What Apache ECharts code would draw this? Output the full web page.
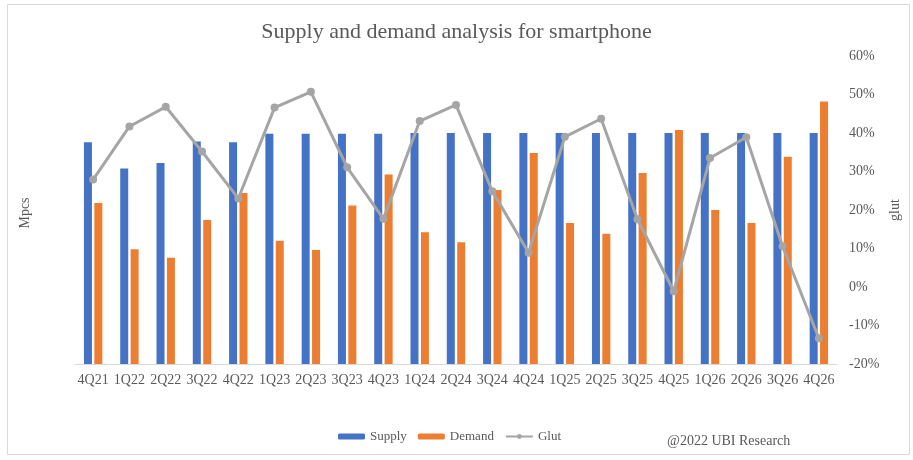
<!DOCTYPE html>
<html>
<head>
<meta charset="utf-8">
<title>Supply and demand analysis for smartphone</title>
<script src="https://cdn.jsdelivr.net/npm/echarts@6/dist/echarts.min.js"></script>
<style>
  html, body { margin: 0; padding: 0; background: #fff; }
  #main { width: 913px; height: 460px; }
</style>
</head>
<body>
<div id="main"></div>
<script>
// 分期 / quarters
var quarters = ['4Q21', '1Q22', '2Q22', '3Q22', '4Q22', '1Q23', '2Q23', '3Q23', '4Q23', '1Q24', '2Q24',
  '3Q24', '4Q24', '1Q25', '2Q25', '3Q25', '4Q25', '1Q26', '2Q26', '3Q26', '4Q26'];
// Mpcs (left axis is hidden in the source)
var supply = [288, 254, 261, 289, 288, 299, 299, 299, 299, 300, 300,
  300, 300, 300, 300, 300, 300, 300, 300, 300, 300];
var demand = [209, 149, 138, 187, 222, 160, 148, 206, 246, 171, 158,
  226, 274, 183, 169, 248, 304, 200, 183, 269, 341];
// glut, %
var glut = [27.9, 41.7, 46.8, 35.2, 23.0, 46.6, 50.7, 31.1, 17.7, 43.1, 47.3,
  24.9, 8.9, 39.0, 43.7, 17.6, -1.1, 33.5, 38.9, 10.6, -13.3];

var colors = ['#4472C4', '#ED7D31', '#A5A5A5'];
var serif = '"Liberation Serif", "Times New Roman", serif';
var textGray = '#595959';

var myChart = echarts.init(document.getElementById('main'));
var options = {
  color: colors,
  animation: false,
  textStyle: { fontFamily: serif },
  title: {
    text: 'Supply and demand analysis for smartphone',
    left: 'center',
    top: 16,
    textStyle: { fontFamily: serif, fontSize: 22, fontWeight: 'normal', color: textGray }
  },
  legend: {
    left: 333,
    top: 425,
    itemWidth: 27,
    itemHeight: 6,
    itemGap: 11,
    textStyle: { fontFamily: serif, fontSize: 13, color: textGray },
    data: ['Supply', 'Demand', 'Glut']
  },
  grid: { left: 75, right: 76, top: 56, bottom: 96 },
  xAxis: {
    type: 'category',
    data: quarters,
    axisTick: { show: false },
    axisLine: { lineStyle: { color: '#D9D9D9' } },
    axisLabel: { color: textGray, fontFamily: serif, fontSize: 14, margin: 9, interval: 0, hideOverlap: false }
  },
  yAxis: [
    { type: 'value', min: 0, max: 400, interval: 50, show: false },
    {
      type: 'value', min: -20, max: 60, interval: 10, position: 'right',
      axisLine: { show: false },
      axisTick: { show: false },
      splitLine: { show: false },
      axisLabel: { color: textGray, fontFamily: serif, fontSize: 14, margin: 12, formatter: '{value}%' }
    }
  ],
  graphic: [
    {
      type: 'rect', silent: true,
      shape: { x: 7.5, y: 4.5, width: 902, height: 450 },
      style: { fill: 'none', stroke: '#D9D9D9', lineWidth: 1 }
    },
    {
      type: 'text', x: 25, y: 213, rotation: Math.PI / 2,
      style: { text: 'Mpcs', fill: textGray, font: '14px ' + serif, align: 'center', verticalAlign: 'middle' }
    },
    {
      type: 'text', x: 895, y: 210, rotation: Math.PI / 2,
      style: { text: 'glut', fill: textGray, font: '14px ' + serif, align: 'center', verticalAlign: 'middle' }
    },
    {
      type: 'text', left: 667, top: 434,
      style: { text: '@2022 UBI Research', fill: textGray, font: '14px ' + serif }
    }
  ],
  series: [
    { name: 'Supply', type: 'bar', barWidth: 8, barGap: '30%', data: supply },
    { name: 'Demand', type: 'bar', barWidth: 8, data: demand },
    {
      name: 'Glut', type: 'line', yAxisIndex: 1, z: 5,
      symbol: 'circle', symbolSize: 8,
      lineStyle: { width: 3, color: colors[2] },
      itemStyle: { color: colors[2] },
      data: glut
    }
  ]
};
myChart.setOption(options);
window.onresize = function () {
  myChart.resize();
};
</script>
</body>
</html>
